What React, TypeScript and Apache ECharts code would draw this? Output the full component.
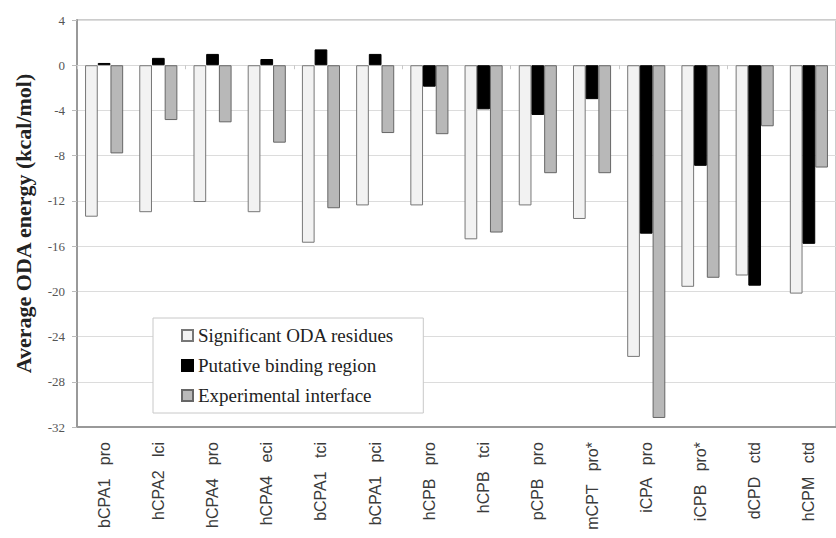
import React, { useEffect, useRef } from "react";
import * as echarts from "echarts";

const categories = [
  "bCPA1   pro",
  "hCPA2   lci",
  "hCPA4   pro",
  "hCPA4   eci",
  "bCPA1   tci",
  "bCPA1   pci",
  "hCPB   pro",
  "hCPB   tci",
  "pCPB   pro",
  "mCPT   pro*",
  "iCPA   pro",
  "iCPB   pro*",
  "dCPD   ctd",
  "hCPM   ctd",
];

const significantResidues = [-13.4, -13.0, -12.1, -13.0, -15.7, -12.4, -12.4, -15.4, -12.4, -13.6, -25.8, -19.6, -18.6, -20.2];
const putativeBinding = [0.2, 0.65, 1.0, 0.55, 1.4, 1.0, -1.9, -3.9, -4.4, -3.0, -14.9, -8.9, -19.5, -15.8];
const experimentalInterface = [-7.8, -4.85, -5.05, -6.85, -12.65, -6.0, -6.1, -14.8, -9.55, -9.55, -31.2, -18.8, -5.4, -9.05];

const seriesNames = ["Significant ODA residues", "Putative binding region", "Experimental interface"];
const yTicks = { min: -32, max: 4, interval: 4 };

export default function App() {
  const ref = useRef<HTMLDivElement>(null);
  useEffect(() => {
    document.body.style.margin = "0";
    const chart = echarts.init(ref.current!, null, { renderer: "svg" });
    chart.setOption({
      animation: false,
      backgroundColor: "#ffffff",
      textStyle: { fontFamily: "Liberation Serif" },
      grid: {
        left: 77,
        top: 20,
        right: -11,
        bottom: 111,
        show: true,
        borderColor: "#999",
        borderWidth: 1,
        backgroundColor: "transparent",
      },
      legend: {
        orient: "vertical",
        left: 153,
        top: 318,
        padding: [8, 29, 8, 28],
        icon: "rect",
        itemWidth: 11,
        itemHeight: 11,
        itemGap: 11,
        backgroundColor: "#fff",
        borderColor: "#c8c8c8",
        borderWidth: 1,
        textStyle: { fontFamily: "Liberation Serif", fontSize: 19, lineHeight: 19, color: "#222" },
        data: seriesNames,
      },
      xAxis: [
        {
          type: "category",
          data: categories,
          position: "bottom",
          axisLine: { onZero: false, lineStyle: { color: "#999", width: 2 } },
          axisTick: { show: false },
          axisLabel: {
            rotate: 90,
            interval: 0,
            margin: 15,
            fontFamily: "Liberation Sans",
            fontSize: 16,
            color: "#3a3a3a",
          },
          splitLine: { show: false },
        },
        {
          type: "category",
          data: categories,
          position: "top",
          axisLine: { onZero: true, lineStyle: { color: "#d8d8d8", width: 1 } },
          axisTick: { show: true, inside: true, length: 4, lineStyle: { color: "#c8c8c8" } },
          axisLabel: { show: false },
          splitLine: { show: false },
        },
      ],
      yAxis: {
        type: "value",
        min: yTicks.min,
        max: yTicks.max,
        interval: yTicks.interval,
        name: "Average ODA energy (kcal/mol)",
        nameLocation: "middle",
        nameGap: 43,
        nameRotate: 90,
        nameTextStyle: { fontFamily: "Liberation Serif", fontWeight: "bold", fontSize: 22, color: "#222" },
        axisLine: { show: true, lineStyle: { color: "#999", width: 2 } },
        axisTick: { show: true, length: 5, lineStyle: { color: "#bbb" } },
        axisLabel: { fontFamily: "Liberation Serif", fontSize: 13, color: "#555", margin: 12 },
        splitLine: { show: true, lineStyle: { color: "#dcdcdc", width: 1 } },
      },
      series: [
        {
          name: seriesNames[0],
          type: "bar",
          xAxisIndex: 0,
          data: significantResidues,
          barWidth: 12.7,
          barGap: "0%",
          itemStyle: { color: "#f2f2f2", borderColor: "#777", borderWidth: 1 },
        },
        {
          name: seriesNames[1],
          type: "bar",
          xAxisIndex: 0,
          data: putativeBinding,
          barWidth: 12.7,
          barGap: "0%",
          itemStyle: { color: "#000000", borderColor: "#000", borderWidth: 1 },
        },
        {
          name: seriesNames[2],
          type: "bar",
          xAxisIndex: 0,
          data: experimentalInterface,
          barWidth: 12.7,
          barGap: "0%",
          itemStyle: { color: "#b8b8b8", borderColor: "#666", borderWidth: 1 },
        },
      ],
    });
    return () => chart.dispose();
  }, []);
  return <div ref={ref} style={{ width: 836, height: 538 }} />;
}
